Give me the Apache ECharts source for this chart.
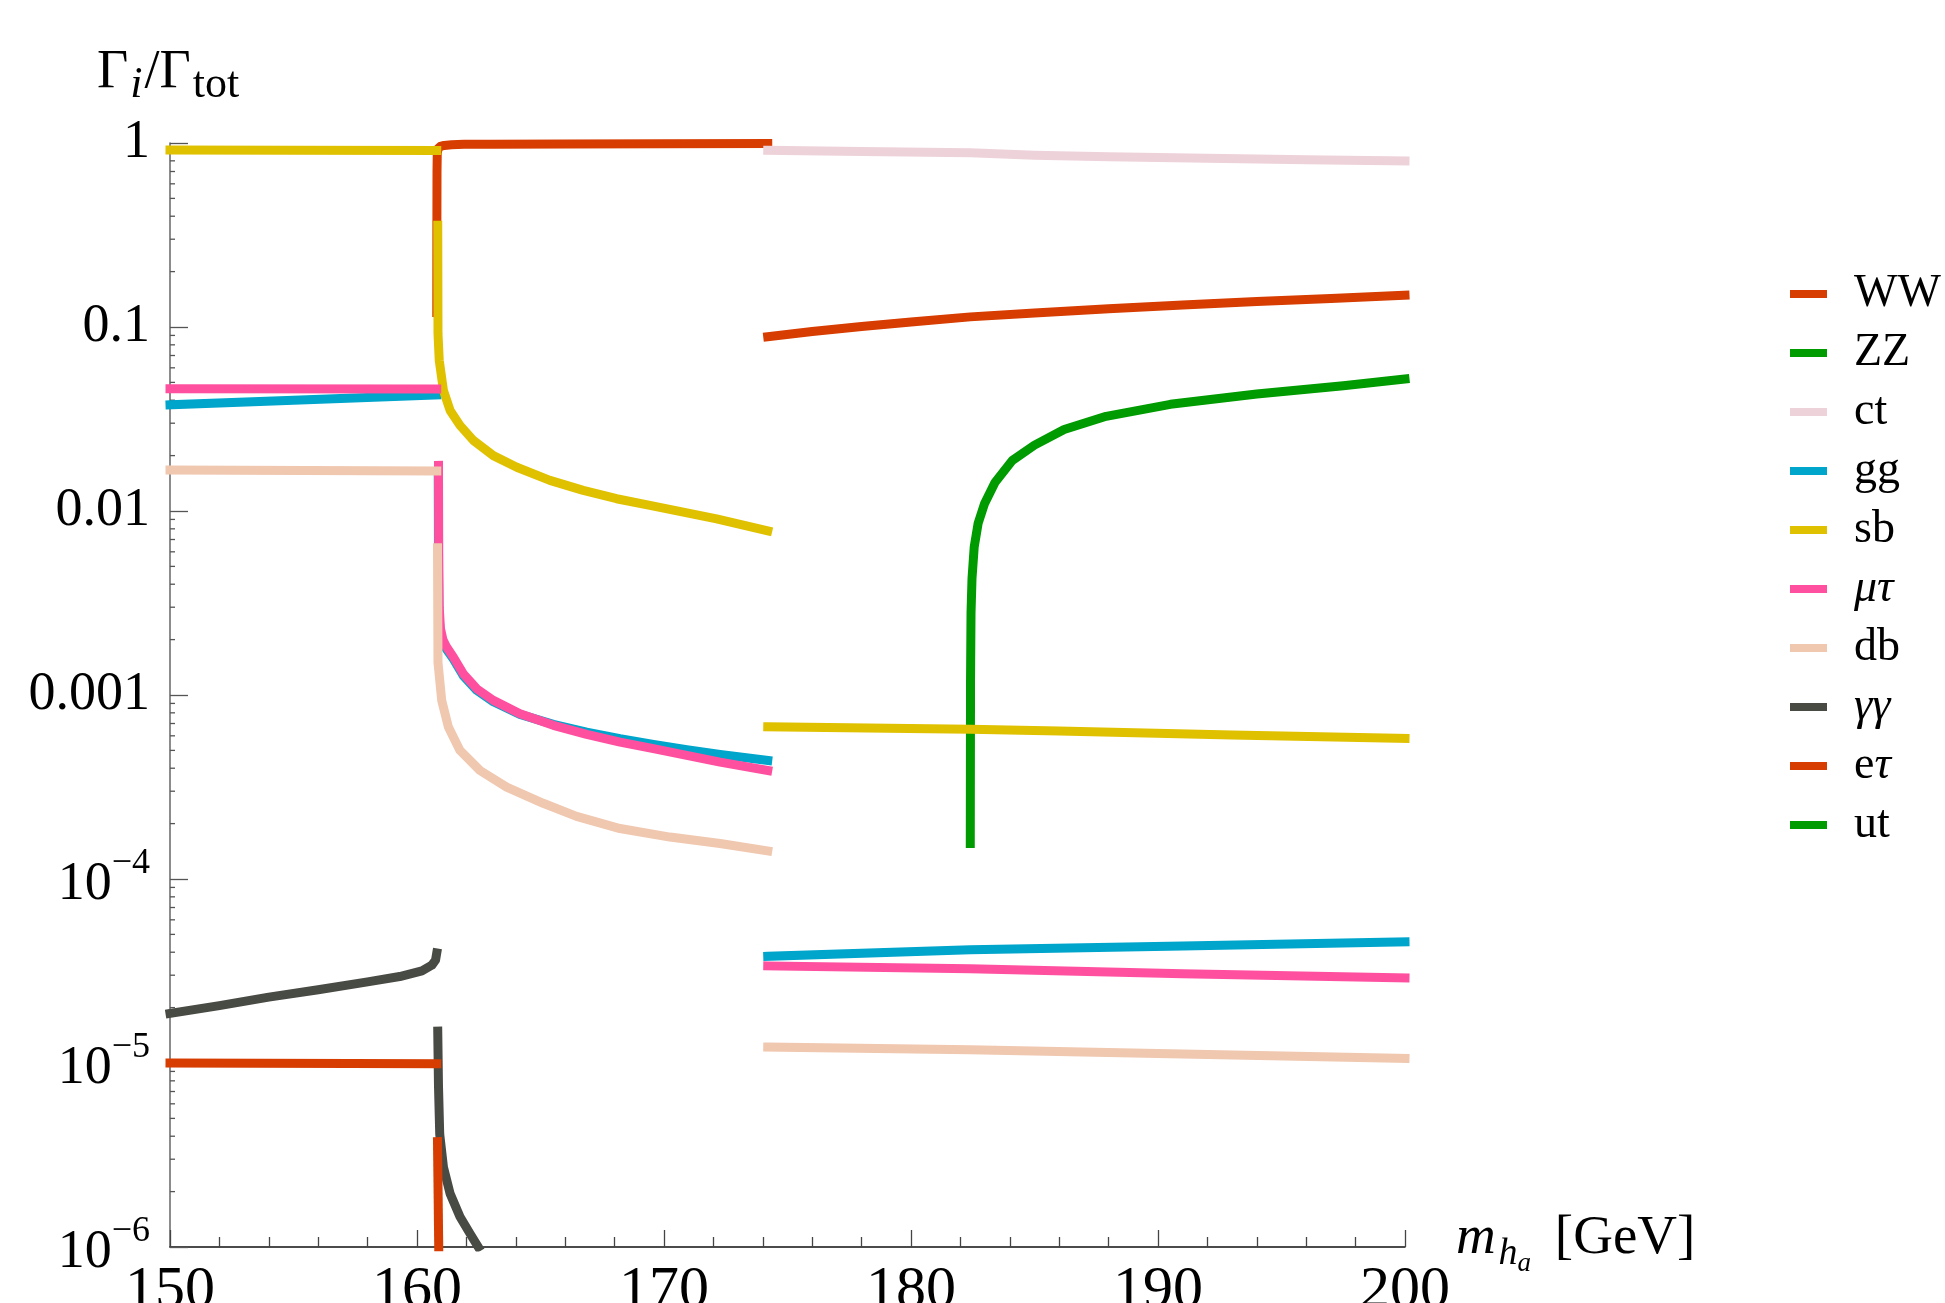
<!DOCTYPE html>
<html><head><meta charset="utf-8">
<script src="https://cdn.jsdelivr.net/npm/echarts@6/dist/echarts.min.js"></script>
<style>html,body{margin:0;padding:0;background:#fff}#c{width:1945px;height:1303px}</style>
</head><body><div id="c"></div>
<script>
// ---------- names, colours, ticks ----------
const seriesNames  = ['WW','ZZ','ct','gg','sb','μτ','db','γγ','eτ','ut'];
const seriesColors = ['#D73C00','#009B00','#EED2DA','#00A5CC','#E0C100','#FF50A0','#F0C7AF','#484A44','#D73C00','#009B00'];
const xTickValues = [150,160,170,180,190,200];
const yTickValues = [1e-6,1e-5,1e-4,1e-3,1e-2,1e-1,1];
const yTickLabels = ['10|−6','10|−5','10|−4','0.001','0.01','0.1','1'];
const yMinorDecades = [1e-6,1e-5,1e-4,1e-3,1e-2,1e-1];
const yMinorMultipliers = [2,3,4,5,6,7,8,9];

// ---------- data: [m_ha, Gamma_i/Gamma_tot] segments ----------
const WW_a = [[160.80,0.12],[160.805,0.35],[160.81,0.7],[160.82,0.88],[160.86,0.935],[160.95,0.958],[161.1,0.97],[161.4,0.978],[161.9,0.983],[163,0.986],[166,0.989],[170,0.991],[174.2,0.993]];
const WW_b = [[174.2,0.0885],[176,0.0945],[178,0.1005],[180,0.1065],[182.4,0.1135],[185,0.119],[188,0.1255],[191,0.1315],[194,0.1375],[197,0.143],[200,0.149]];
const ZZ_a = [[182.4,1.56e-4],[182.41,1.2e-3],[182.43,2.8e-3],[182.47,4.3e-3],[182.56,6.4e-3],[182.72,8.6e-3],[182.98,0.011],[183.4,0.0143],[184.1,0.0188],[185,0.0228],[186.2,0.0277],[187.9,0.0327],[190.5,0.038],[194,0.0432],[197.5,0.048],[200,0.0522]];
const ct_a = [[174.2,0.912],[178,0.899],[182.4,0.886],[185,0.859],[188,0.842],[192,0.826],[196,0.812],[200,0.798]];
const gg_a = [[150,0.0378],[155,0.0400],[160.8,0.0428]];
const gg_b = [[160.86,0.016],[160.87,0.005],[160.89,0.0027],[160.95,0.0021],[161.1,0.00185],[161.47,0.00157],[161.88,0.00127],[162.42,0.00106],[163.09,0.00092],[164.17,0.000785],[165.52,0.000692],[166.87,0.000628],[168.22,0.000579],[169.57,0.000539],[170.92,0.000504],[172.27,0.000475],[174.2,0.000441]];
const gg_c = [[174.2,3.8e-5],[182.4,4.13e-5],[191,4.33e-5],[200,4.55e-5]];
const sb_a = [[150,0.917],[155,0.914],[160.8,0.91]];
const sb_b = [[160.84,0.357],[160.85,0.092],[160.9,0.0659],[161.07,0.0452],[161.34,0.0352],[161.74,0.0292],[162.28,0.0242],[163.09,0.0200],[164.04,0.0173],[165.38,0.01466],[166.73,0.01294],[168.08,0.01166],[169.43,0.01072],[170.78,0.00986],[172.13,0.00907],[174.2,0.0078]];
const sb_c = [[174.2,6.72e-4],[182.4,6.52e-4],[186,6.37e-4],[193,6.07e-4],[200,5.8e-4]];
const mt_a = [[150,0.0462],[160.8,0.0460]];
const mt_b = [[160.87,0.0177],[160.88,0.006],[160.9,0.003],[160.95,0.0023],[161.05,0.002],[161.2,0.00182],[161.47,0.00161],[161.88,0.0013],[162.42,0.00108],[163.09,0.000935],[164.17,0.000791],[165.52,0.000684],[166.87,0.000611],[168.22,0.000555],[169.57,0.000511],[170.92,0.00047],[172.27,0.000432],[174.2,0.000389]];
const mt_c = [[174.2,3.37e-5],[182.4,3.25e-5],[191,3.06e-5],[200,2.9e-5]];
const db_a = [[150,0.0167],[160.8,0.0165]];
const db_b = [[160.83,0.00632],[160.85,0.0015],[161.0,0.000935],[161.27,0.00067],[161.74,0.0005],[162.55,0.000389],[163.63,0.000316],[165.11,0.000258],[166.46,0.000219],[168.22,0.000188],[170.24,0.000169],[172.27,0.000156],[174.2,0.000142]];
const db_c = [[174.2,1.22e-5],[182.4,1.18e-5],[191,1.12e-5],[200,1.06e-5]];
const gaga_a = [[150,1.86e-5],[152,2.05e-5],[154,2.28e-5],[156,2.5e-5],[158,2.76e-5],[159.3,2.95e-5],[160.2,3.17e-5],[160.6,3.4e-5],[160.75,3.62e-5],[160.8,3.97e-5]];
const gaga_b = [[160.84,1.49e-5],[160.87,7.5e-6],[160.92,4.1e-6],[161.07,2.72e-6],[161.34,1.95e-6],[161.74,1.46e-6],[162.15,1.18e-6],[162.48,1.0e-6]];
const et_a = [[150,1.0e-5],[160.8,9.9e-6]];
const et_b = [[160.83,3.74e-6],[160.88,1.0e-6]];
const ut_a = [];

const segments = {
  'WW':[WW_a,WW_b], 'ZZ':[ZZ_a], 'ct':[ct_a], 'gg':[gg_a,gg_b,gg_c], 'sb':[sb_a,sb_b,sb_c],
  'μτ':[mt_a,mt_b,mt_c], 'db':[db_a,db_b,db_c], 'γγ':[gaga_a,gaga_b], 'eτ':[et_a,et_b], 'ut':[ut_a]
};

const FONT = '"Liberation Serif","Times New Roman",serif';

const yMinorTicks = [];
yMinorDecades.forEach(d => yMinorMultipliers.forEach(k => yMinorTicks.push([150, k * d])));

const series = [{
  type: 'custom', name: '_minor', silent: true, clip: false, z: 1,
  data: yMinorTicks,
  renderItem: function (params, api) {
    const p = api.coord([api.value(0), api.value(1)]);
    return { type: 'line', shape: { x1: p[0], y1: p[1], x2: p[0] + 5, y2: p[1] },
             style: { stroke: '#555', lineWidth: 1.3 } };
  }
}];
seriesNames.forEach((name, i) => {
  segments[name].forEach(seg => {
    series.push({
      type: 'line', name: name, data: seg, showSymbol: false, symbol: 'none',
      clip: true, z: 2, emphasis: { disabled: true },
      lineStyle: { color: seriesColors[i], width: 9, cap: 'square', join: 'round' },
      itemStyle: { color: seriesColors[i] }
    });
  });
});

function yLabel(v) {
  let idx = 0, best = 1e9;
  yTickValues.forEach((t, i) => { const d = Math.abs(Math.log10(t) - Math.log10(v)); if (d < best) { best = d; idx = i; } });
  const lab = yTickLabels[idx];
  if (lab.indexOf('|') >= 0) { const p = lab.split('|'); return '{b|' + p[0] + '}{s|' + p[1] + '}'; }
  return lab;
}

const chart = echarts.init(document.getElementById('c'), null, { renderer: 'canvas' });
chart.setOption({
  animation: false,
  backgroundColor: '#fff',
  title: {
    left: 97, top: 46, padding: 0,
    text: '{g|Γ}{i|i}{g|/Γ}{s|tot}',
    textStyle: {
      fontWeight: 'normal', fontFamily: FONT,
      rich: {
        g: { fontFamily: FONT, fontSize: 54, lineHeight: 54, fontWeight: 'normal', color: '#000' },
        i: { fontFamily: FONT, fontSize: 44, lineHeight: 44, fontWeight: 'normal', fontStyle: 'italic', color: '#000', padding: [25, 2, 0, 2] },
        s: { fontFamily: FONT, fontSize: 44, lineHeight: 44, fontWeight: 'normal', color: '#000', padding: [25, 0, 0, 2] }
      }
    }
  },
  legend: {
    orient: 'vertical', left: 1790, top: 269, padding: 0,
    icon: 'rect', itemWidth: 37, itemHeight: 8, itemGap: 9,
    selectedMode: false,
    data: seriesNames,
    formatter: function (name) {
      if (name === 'μτ' || name === 'γγ') return '{i|' + name + '}';
      if (name === 'eτ') return 'e{i|τ}';
      return name;
    },
    textStyle: {
      fontFamily: FONT, fontSize: 46, lineHeight: 50, color: '#000', padding: [0, 0, 0, 22],
      rich: { i: { fontFamily: FONT, fontSize: 46, lineHeight: 50, fontStyle: 'italic', color: '#000' } }
    }
  },
  grid: { left: 170, right: 540, top: 143, bottom: 56, containLabel: false, outerBoundsMode: 'none' },
  xAxis: {
    type: 'value', min: 150, max: 200, interval: 10,
    axisLine: { show: true, onZero: false, lineStyle: { color: '#111', width: 1.5 } },
    axisTick: { show: true, inside: true, length: 17, lineStyle: { color: '#444', width: 1.3 } },
    minorTick: { show: true, splitNumber: 5, length: 10, lineStyle: { color: '#444', width: 1.3 } },
    splitLine: { show: false }, minorSplitLine: { show: false },
    axisLabel: {
      margin: 14, fontFamily: FONT, fontSize: 60, lineHeight: 60, color: '#000',
      formatter: function (v) { const i = xTickValues.indexOf(v); return i >= 0 ? String(xTickValues[i]) : ''; }
    },
    name: '{m|m}{h|h}{a|a}{u| [GeV]}',
    nameLocation: 'end', nameGap: 44,
    nameTextStyle: {
      rich: {
        m: { fontFamily: FONT, fontSize: 55, lineHeight: 55, fontStyle: 'italic', color: '#000', padding: [0, 0, 17, 0] },
        h: { fontFamily: FONT, fontSize: 38, lineHeight: 38, fontStyle: 'italic', color: '#000', padding: [14, 0, 0, 3] },
        a: { fontFamily: FONT, fontSize: 27, lineHeight: 27, fontStyle: 'italic', color: '#000', padding: [33, 0, 0, 0] },
        u: { fontFamily: FONT, fontSize: 55, lineHeight: 55, color: '#000', padding: [0, 0, 17, 10] }
      }
    }
  },
  yAxis: {
    type: 'log', logBase: 10, min: 1e-6, max: 1,
    axisLine: { show: true, lineStyle: { color: '#666', width: 1.5 } },
    axisTick: { show: true, inside: true, length: 18, lineStyle: { color: '#555', width: 1.3 } },
    splitLine: { show: false },
    axisLabel: {
      margin: 20, fontFamily: FONT, fontSize: 54, lineHeight: 54, color: '#000',
      formatter: yLabel,
      rich: {
        b: { fontFamily: FONT, fontSize: 54, lineHeight: 54, color: '#000', padding: [12, 0, 0, 0] },
        s: { fontFamily: FONT, fontSize: 36, lineHeight: 36, color: '#000', padding: [0, 0, 30, 0] }
      }
    }
  },
  series: series
});
</script>
</body></html>
